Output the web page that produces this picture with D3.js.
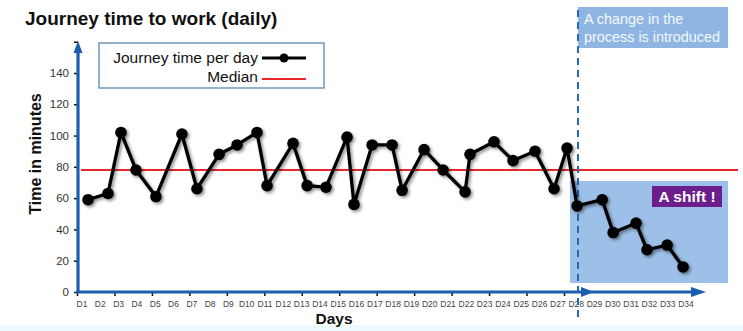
<!DOCTYPE html>
<html>
<head>
<meta charset="utf-8">
<script src="https://cdn.jsdelivr.net/npm/d3@7/dist/d3.min.js"></script>
<style>
  html, body { margin: 0; padding: 0; background: #ffffff; }
  svg { display: block; font-family: "Liberation Sans", Arial, sans-serif; }
</style>
</head>
<body>
<svg id="chart" width="743" height="331"></svg>
<script>
// ---- data ----
const dayLabels = Array.from({length: 34}, (_, i) => "D" + (i + 1));
const measureDay = [1.33, 2.42, 3.13, 3.95, 5.04, 6.46, 7.28, 8.49, 9.47, 10.56,
  11.11, 12.53, 13.30, 14.33, 15.48, 15.86, 16.85, 17.94, 18.49, 19.69,
  20.73, 21.93, 22.20, 23.51, 24.55, 25.75, 26.79, 27.50, 28.05, 29.42,
  30.02, 31.27, 31.87, 32.97, 33.84];
const journeyMinutes = [59, 63, 102, 78, 61, 101, 66, 88, 94, 102,
  68, 95, 68, 67, 99, 56, 94, 94, 65, 91,
  78, 64, 88, 96, 84, 90, 66, 92, 55, 59,
  38, 44, 27, 30, 16];
const medianValue = 78;
const changeDay = 28.1;
const yTickValues = [0, 20, 40, 60, 80, 100, 120, 140, 160];

// ---- layout ----
const svg = d3.select("#chart");
const W = 743, H = 331;
const x0 = 78, yBase = 292;
const blue = "#1a5fae";

const x = d3.scaleLinear().domain([1, 34]).range([82, 686]);
const y = d3.scaleLinear().domain([0, 160]).range([yBase, 41.7]);

const defs = svg.append("defs");
const f = defs.append("filter").attr("id", "shadow")
  .attr("x", "-20%").attr("y", "-20%").attr("width", "140%").attr("height", "140%");
f.append("feDropShadow").attr("dx", 1.8).attr("dy", 1.8)
  .attr("stdDeviation", 1.4).attr("flood-color", "#000").attr("flood-opacity", 0.45);

// bottom pale strip
svg.append("rect").attr("x", 0).attr("y", 325).attr("width", W).attr("height", 6)
  .attr("fill", "#eef9fd");

// title
svg.append("text").attr("x", 25).attr("y", 25)
  .attr("font-size", 19).attr("font-weight", "bold").attr("fill", "#111")
  .text("Journey time to work (daily)");

// shift box
svg.append("rect").attr("x", 570).attr("y", 181).attr("width", 158).attr("height", 102)
  .attr("fill", "#9dc0e8");

// change annotation box
svg.append("rect").attr("x", 578).attr("y", 7).attr("width", 150).attr("height", 41)
  .attr("fill", "#8fb6e3");
svg.append("text").attr("x", 584).attr("y", 24).attr("font-size", 14.4)
  .attr("fill", "#f4f8ff").text("A change in the");
svg.append("text").attr("x", 584).attr("y", 41.5).attr("font-size", 14.4)
  .attr("fill", "#f4f8ff").text("process is introduced");

// y axis
const yAxis = d3.axisLeft(y).tickValues(yTickValues).tickSize(4).tickPadding(5)
  .tickFormat(d => d === 160 ? "" : d);
const gy = svg.append("g").attr("transform", `translate(${x0},0)`).call(yAxis);
gy.select(".domain").remove();
gy.selectAll(".tick line").attr("stroke", "#111").attr("stroke-width", 1.5);
gy.selectAll(".tick text").attr("font-size", 11.5).attr("fill", "#333")
  .attr("font-family", "Liberation Sans, Arial, sans-serif");

// x axis tick marks
const xTick = d3.scaleLinear().domain([0, 13]).range([77, 564]);
const gx = svg.append("g").attr("transform", `translate(0,${yBase})`)
  .call(d3.axisBottom(xTick).ticks(13).tickSize(4).tickFormat(""));
gx.select(".domain").remove();
gx.selectAll(".tick line").attr("stroke", "#111").attr("stroke-width", 1.5);

// x labels
svg.append("g").selectAll("text").data(dayLabels).join("text")
  .attr("x", (d, i) => x(i + 1)).attr("y", 307)
  .attr("text-anchor", "middle").attr("font-size", 8.5).attr("fill", "#444")
  .text(d => d);

// axis lines with arrows
svg.append("line").attr("x1", x0).attr("x2", x0).attr("y1", yBase + 1).attr("y2", 50)
  .attr("stroke", blue).attr("stroke-width", 3.2);
svg.append("path").attr("d", `M${x0 - 4.5},53 L${x0},41 L${x0 + 4.5},53 Z`).attr("fill", blue);

svg.append("line").attr("x1", x0 - 1.5).attr("x2", 694).attr("y1", yBase).attr("y2", yBase)
  .attr("stroke", blue).attr("stroke-width", 3.2);
svg.append("path").attr("d", `M581,${yBase - 5} L594,${yBase} L581,${yBase + 5} Z`).attr("fill", blue);
svg.append("path").attr("d", `M691,${yBase - 5} L706,${yBase} L691,${yBase + 5} Z`).attr("fill", blue);

// axis titles
svg.append("text").attr("transform", `translate(41,154) rotate(-90)`)
  .attr("text-anchor", "middle").attr("font-size", 16).attr("font-weight", "bold")
  .attr("fill", "#111").text("Time in minutes");
svg.append("text").attr("x", 334).attr("y", 324).attr("text-anchor", "middle")
  .attr("font-size", 15.5).attr("font-weight", "bold").attr("fill", "#111").text("Days");

// median line
svg.append("line").attr("x1", 81).attr("x2", 738)
  .attr("y1", y(medianValue)).attr("y2", y(medianValue))
  .attr("stroke", "#e8262c").attr("stroke-width", 2);

// dashed change line
svg.append("line").attr("x1", x(changeDay)).attr("x2", x(changeDay))
  .attr("y1", 10).attr("y2", 320)
  .attr("stroke", "#2468b8").attr("stroke-width", 2).attr("stroke-dasharray", "7,5");

// series
const pts = measureDay.map((d, i) => [d, journeyMinutes[i]]);
const gs = svg.append("g").attr("filter", "url(#shadow)");
gs.append("path").datum(pts)
  .attr("d", d3.line().x(d => x(d[0])).y(d => y(d[1])))
  .attr("fill", "none").attr("stroke", "#000").attr("stroke-width", 3.3)
  .attr("stroke-linejoin", "round");
gs.selectAll("circle").data(pts).join("circle")
  .attr("cx", d => x(d[0])).attr("cy", d => y(d[1])).attr("r", 5.8).attr("fill", "#000");

// shift label
svg.append("rect").attr("x", 652).attr("y", 186).attr("width", 70).attr("height", 21)
  .attr("fill", "#6b1e8c");
svg.append("text").attr("x", 687).attr("y", 202).attr("text-anchor", "middle")
  .attr("font-size", 15.5).attr("font-weight", "bold").attr("fill", "#fff").text("A shift !");

// legend
const lg = svg.append("g");
lg.append("rect").attr("x", 99).attr("y", 43).attr("width", 225).attr("height", 45)
  .attr("fill", "#fff").attr("stroke", "#4d7ea8").attr("stroke-width", 1.2);
lg.append("text").attr("x", 258).attr("y", 63).attr("text-anchor", "end")
  .attr("font-size", 15.5).attr("fill", "#111").text("Journey time per day");
lg.append("text").attr("x", 258).attr("y", 82).attr("text-anchor", "end")
  .attr("font-size", 15.5).attr("fill", "#111").text("Median");
lg.append("line").attr("x1", 262).attr("x2", 306).attr("y1", 58).attr("y2", 58)
  .attr("stroke", "#000").attr("stroke-width", 3);
lg.append("circle").attr("cx", 284).attr("cy", 58).attr("r", 4.5).attr("fill", "#000");
lg.append("line").attr("x1", 262).attr("x2", 306).attr("y1", 79).attr("y2", 79)
  .attr("stroke", "#e8262c").attr("stroke-width", 2);
</script>
</body>
</html>
